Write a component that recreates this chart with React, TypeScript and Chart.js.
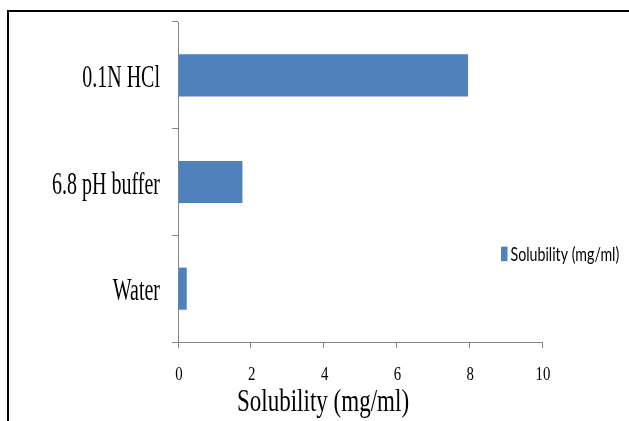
import React, { useEffect, useRef } from "react";
import { Chart, registerables } from "chart.js";

Chart.register(...registerables);

// Solubility of the sample in three media
const categories = ["0.1N HCl", "6.8 pH buffer", "Water"];
const solubility = [7.97, 1.77, 0.24];
const seriesLabel = "Solubility (mg/ml)";
const axisTitle = "Solubility (mg/ml)";
const xMin = 0;
const xMax = 10;
const xStep = 2;

const BAR_COLOR = "#4F81BD";
const AXIS_COLOR = "#868686";

// Draws text squeezed horizontally, like the narrow office-style typesetting
function drawNarrow(
  ctx: CanvasRenderingContext2D,
  text: string,
  x: number,
  y: number,
  font: string,
  sx: number,
  align: CanvasTextAlign
) {
  ctx.save();
  ctx.translate(x, y);
  ctx.scale(sx, 1);
  ctx.font = font;
  ctx.textAlign = align;
  ctx.textBaseline = "alphabetic";
  ctx.fillStyle = "#000";
  ctx.fillText(text, 0, 0);
  ctx.restore();
}

const textPlugin = {
  id: "narrowText",
  afterDraw(chart: any) {
    const ctx: CanvasRenderingContext2D = chart.ctx;
    const yScale = chart.scales.y;
    const xScale = chart.scales.x;

    // outer frame
    ctx.save();
    ctx.fillStyle = "#000";
    ctx.fillRect(7, 10, chart.width - 7, 2);
    ctx.fillRect(7, 10, 2, chart.height - 10);
    ctx.restore();

    // category labels
    const labels: string[] = chart.data.labels;
    labels.forEach((lab, i) => {
      const y = yScale.getPixelForValue(i);
      drawNarrow(ctx, lab, yScale.right - 18, y + 11.5, "31px 'Liberation Serif'", 0.645, "right");
    });

    // value tick labels
    xScale.ticks.forEach((t: any) => {
      const x = xScale.getPixelForValue(t.value);
      drawNarrow(ctx, String(t.value), x + 1, xScale.top + 38, "19px 'Liberation Serif'", 0.78, "center");
    });

    // axis title
    drawNarrow(ctx, axisTitle, 323, xScale.top + 69, "32px 'Liberation Serif'", 0.72, "center");

    // legend
    const ds = chart.data.datasets[0];
    const ly = yScale.getPixelForValue(2) - 28;
    ctx.save();
    ctx.fillStyle = ds.backgroundColor;
    ctx.fillRect(501, ly - 14, 6.5, 14.5);
    ctx.restore();
    drawNarrow(ctx, ds.label, 510.5, ly, "20px Lato", 0.71, "left");
  },
};

export default function App() {
  const canvasRef = useRef<HTMLCanvasElement | null>(null);

  useEffect(() => {
    const canvas = canvasRef.current;
    if (!canvas) return;
    const chart = new Chart(canvas, {
      type: "bar",
      data: {
        labels: categories,
        datasets: [
          {
            label: seriesLabel,
            data: solubility,
            backgroundColor: BAR_COLOR,
            borderWidth: 0,
            barPercentage: 0.395,
            categoryPercentage: 1,
          },
        ],
      },
      options: {
        indexAxis: "y",
        responsive: false,
        animation: false,
        devicePixelRatio: 1,
        layout: { padding: { top: 22, right: 87, left: 0, bottom: 0 } },
        plugins: {
          legend: { display: false },
          tooltip: { enabled: false },
          title: { display: false },
        },
        scales: {
          x: {
            type: "linear",
            min: xMin,
            max: xMax,
            ticks: { stepSize: xStep, display: false },
            grid: {
              drawOnChartArea: false,
              drawTicks: true,
              tickLength: 6,
              color: AXIS_COLOR,
            },
            border: { display: true, color: AXIS_COLOR, width: 1 },
            afterFit: (s: any) => {
              s.height = 79;
            },
          },
          y: {
            type: "category",
            offset: true,
            ticks: { display: false },
            grid: {
              offset: true,
              drawOnChartArea: false,
              drawTicks: true,
              tickLength: 6,
              color: AXIS_COLOR,
            },
            border: { display: true, color: AXIS_COLOR, width: 1 },
            afterFit: (s: any) => {
              s.width = 178;
            },
          },
        },
      } as any,
      plugins: [textPlugin],
    });
    return () => chart.destroy();
  }, []);

  return (
    <div style={{ position: "fixed", left: 0, top: 0, width: 629, height: 421, background: "#fff" }}>
      <canvas ref={canvasRef} width={629} height={421} style={{ width: 629, height: 421, display: "block" }} />
    </div>
  );
}
